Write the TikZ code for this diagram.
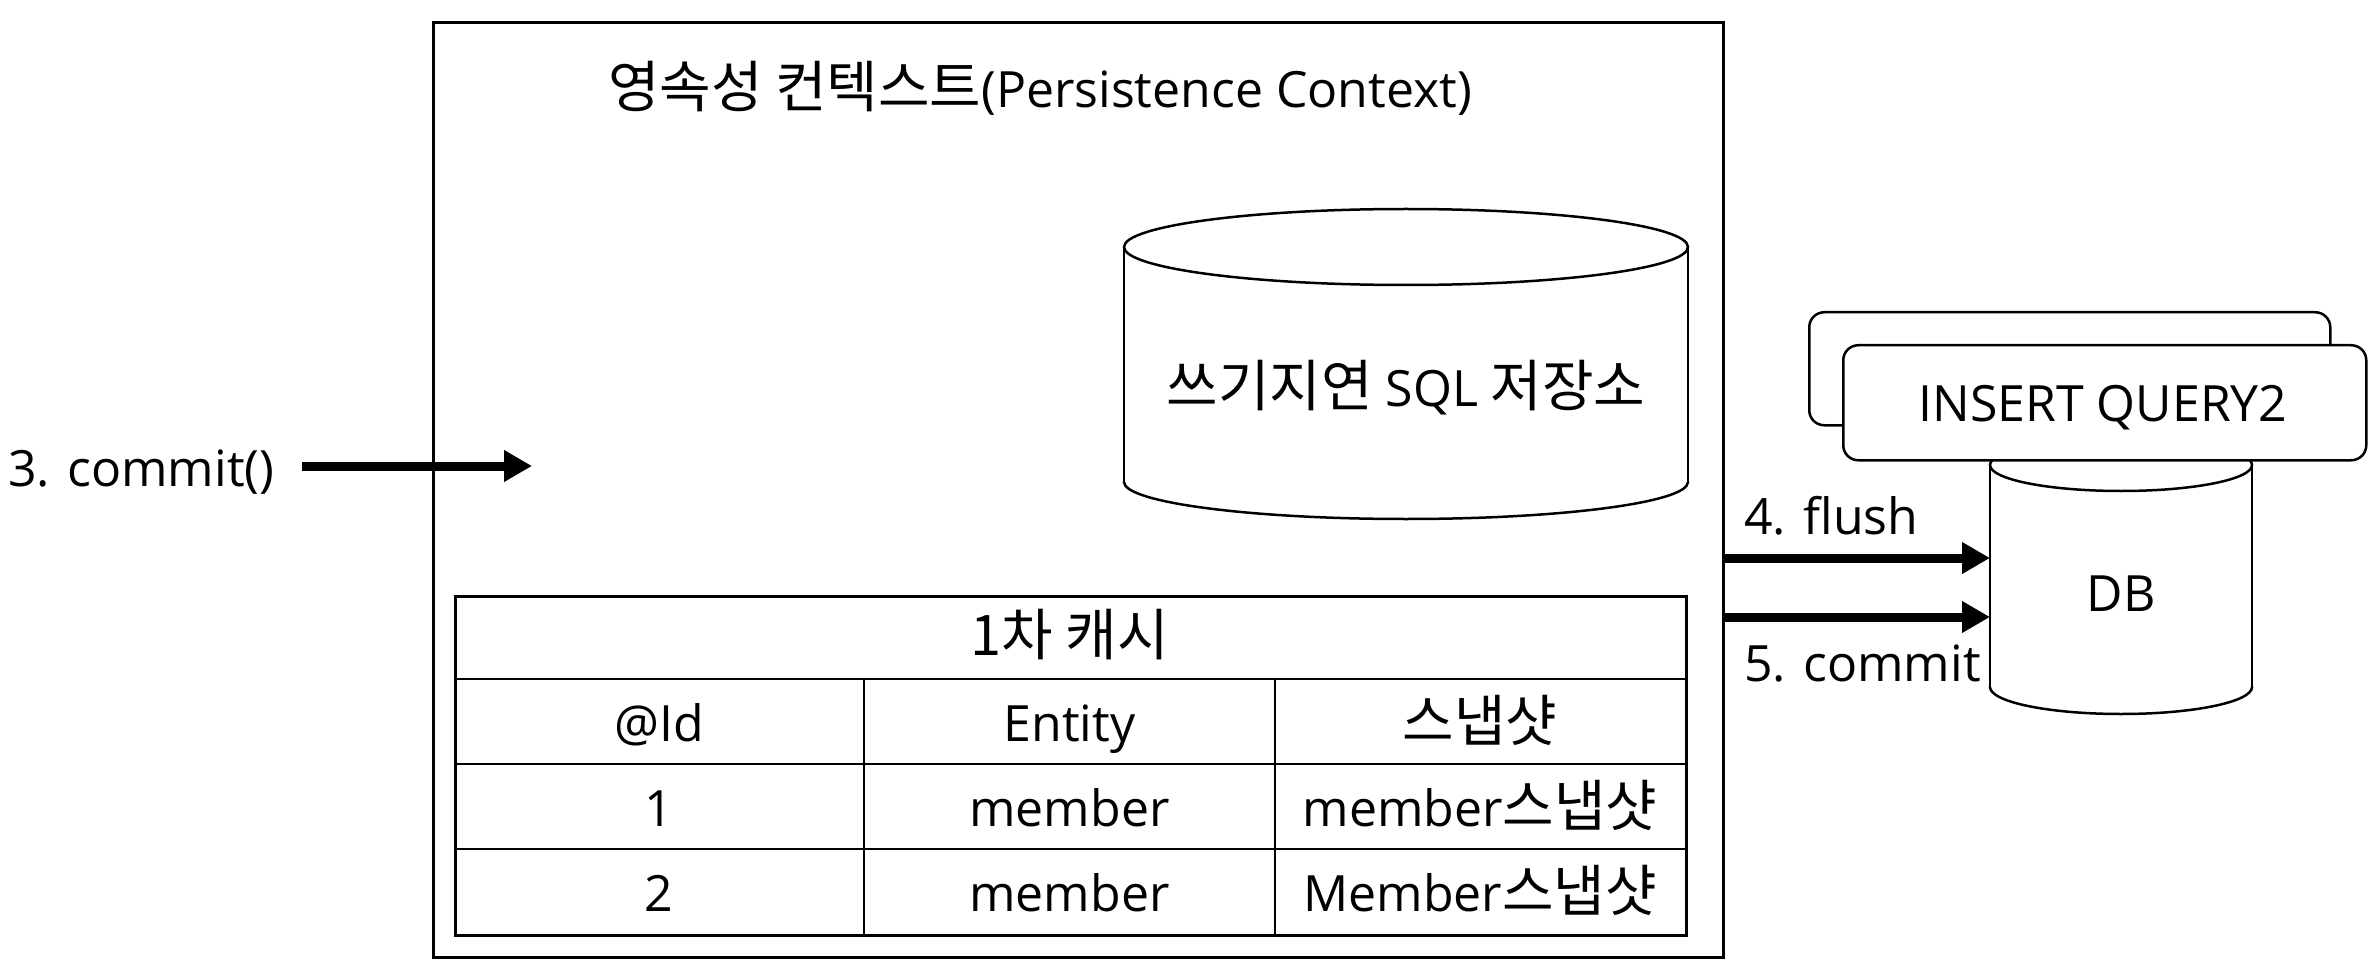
\documentclass[tikz,border=0pt]{standalone}
\usepackage{fontspec}
\setmainfont{Open Sans}
\newfontfamily\kr[Scale=1.12]{Noto Sans CJK KR}
\usetikzlibrary{arrows.meta}
\begin{document}
\begin{tikzpicture}[x=1pt,y=-1pt,
  lbl/.style={font=\fontsize{50}{60}\selectfont, inner sep=0pt, text height=36pt, text depth=0pt},
  thickarrow/.style={line width=9pt, -{Triangle[length=28pt,width=30pt]}},
  cyl/.style={draw, line width=2.5pt, fill=white},
  qbox/.style={draw, line width=2.5pt, fill=white, rounded corners=15pt, inner sep=0pt, anchor=north west},
  thin/.style={line width=2pt},
]
\useasboundingbox (0,0) rectangle (2378,976);
\fill[white] (0,0) rectangle (2378,976);

% persistence context box
\node[draw, line width=3pt, inner sep=0pt, anchor=north west, minimum width=1290pt, minimum height=935pt] (pc) at (432,21) {};
\node[lbl] (title) at (1040,90) {{\kr 영속성 컨텍스트}(Persistence Context)};

% write-behind SQL store cylinder
\draw[cyl] (1406,482) ellipse[x radius=282pt, y radius=37pt];
\fill[white] (1124,247) rectangle (1688,482);
\draw[line width=2.5pt] (1124,247) -- (1124,482.5);
\draw[line width=2.5pt] (1688,247) -- (1688,482.5);
\draw[cyl] (1406,247) ellipse[x radius=282pt, y radius=38pt];
\node[lbl] (sql) at (1406,388) {{\kr 쓰기지연} SQL {\kr 저장소}};

% commit arrow
\node[lbl, anchor=west] (c3) at (8,468) {3. commit()};
\coordinate (c3s) at (302,466);
\coordinate (c3e) at (532,466);
\draw[thickarrow] (c3s) -- (c3e);

% first-level cache table
\node[draw, line width=3pt, inner sep=0pt, anchor=north west, minimum width=1231pt, minimum height=339pt] (cache) at (454,595) {};
\coordinate (r1) at (0,679);
\coordinate (r2) at (0,764);
\coordinate (r3) at (0,849);
\coordinate (c1) at (864,0);
\coordinate (c2) at (1275,0);
\draw[thin] (cache.west |- r1) -- (cache.east |- r1);
\draw[thin] (cache.west |- r2) -- (cache.east |- r2);
\draw[thin] (cache.west |- r3) -- (cache.east |- r3);
\draw[thin] (c1 |- r1) -- (c1 |- cache.south);
\draw[thin] (c2 |- r1) -- (c2 |- cache.south);

\node[lbl] (head) at (1069.5,637) {{\kr 1차 캐시}};
\node[lbl] (hid) at (659,723) {@Id};
\node[lbl] (hent) at (1069.5,723) {Entity};
\node[lbl] (hsnap) at (1480,723) {{\kr 스냅샷}};
\node[lbl] (id1) at (659,808) {1};
\node[lbl] (ent1) at (1069.5,808) {member};
\node[lbl] (snap1) at (1480,808) {member{\kr 스냅샷}};
\node[lbl] (id2) at (659,893) {2};
\node[lbl] (ent2) at (1069.5,893) {member};
\node[lbl] (snap2) at (1480,893) {Member{\kr 스냅샷}};

% DB cylinder
\draw[cyl] (2121,687) ellipse[x radius=131pt, y radius=27pt];
\fill[white] (1990,465) rectangle (2252,687);
\draw[line width=2.5pt] (1990,465) -- (1990,687.5);
\draw[line width=2.5pt] (2252,465) -- (2252,687.5);
\draw[cyl] (2121,465) ellipse[x radius=131pt, y radius=26pt];
\node[lbl] (db) at (2121,593) {DB};

% query boxes
\node[qbox, minimum width=521pt, minimum height=113pt] (qback) at (1808,311) {};
\node[qbox, minimum width=523pt, minimum height=115pt] (qfront) at (1842,344) {};
\node[lbl] (qtext) at (2103,403) {INSERT QUERY2};

% flush / commit arrows
\coordinate (flushend) at (1990,558);
\coordinate (commitend) at (1990,617);
\draw[thickarrow] (pc.east |- flushend) -- (flushend);
\draw[thickarrow] (pc.east |- commitend) -- (commitend);
\node[lbl, anchor=west] (flush) at (1744,516) {4. flush};
\node[lbl, anchor=west] (commit5) at (1744,663) {5. commit};
\end{tikzpicture}
\end{document}
